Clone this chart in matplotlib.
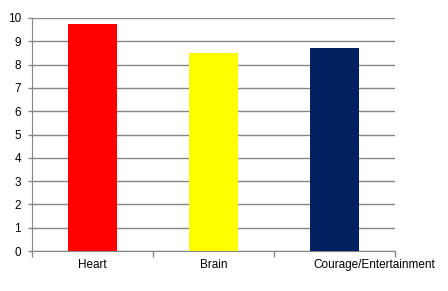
import matplotlib.pyplot as plt
import matplotlib.transforms as mtransforms
import numpy as np

# values
categories = ['Heart', 'Brain', 'Courage/Entertainment']
scores = [9.75, 8.5, 8.7]
colors = ['#ff0000', '#ffff00', '#002060']

plt.rcParams['font.family'] = ['Liberation Sans', 'DejaVu Sans']

fig = plt.figure(figsize=(4.48, 2.91), dpi=100)
ax = fig.add_axes([32 / 448, 40 / 291, 363 / 448, 233 / 291])

x = np.arange(len(categories))
ax.bar(x, scores, width=0.4, color=colors, zorder=3)

grid_col = '#868686'
ax.set_xlim(-0.5, len(categories) - 0.5)
ax.set_ylim(0, 10)
ax.set_yticks(range(0, 11))
ax.yaxis.grid(True, color=grid_col, linewidth=1, zorder=0)

# category labels at the centres, tick marks at the boundaries
ax.set_xticks(x)
ax.set_xticklabels(categories, fontsize=8.5)
ax.tick_params(axis='x', length=0, pad=6)
ax.set_xticks(np.arange(-0.5, len(categories)), minor=True)
ax.tick_params(axis='x', which='minor', length=4, color=grid_col, width=1)
ax.tick_params(axis='y', length=3, color=grid_col, width=1, labelsize=8.5, pad=5)

for s in ['top', 'right']:
    ax.spines[s].set_visible(False)
ax.spines['left'].set_color(grid_col)
ax.spines['bottom'].set_color(grid_col)

# last label sits right of its slot in the original
lab = ax.get_xticklabels()[2]
lab.set_transform(lab.get_transform() + mtransforms.ScaledTranslation(0.4, 0, fig.dpi_scale_trans))

fig.savefig('out.png', dpi=100)
